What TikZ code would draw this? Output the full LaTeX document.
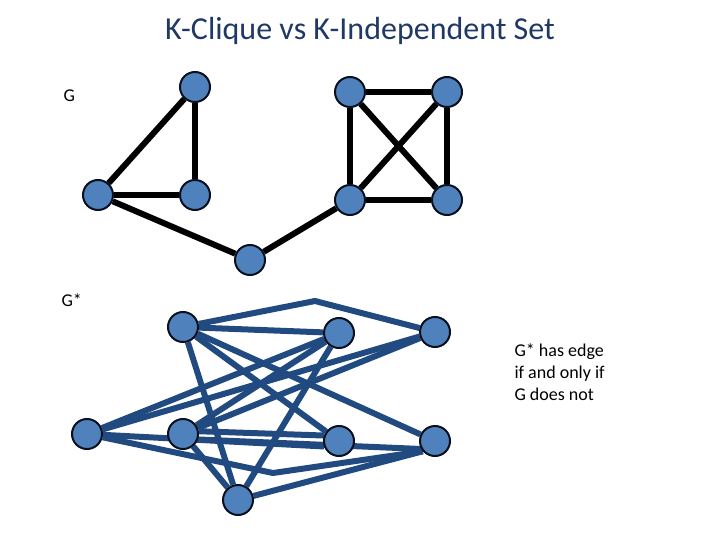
\documentclass[tikz,border=0pt]{standalone}
\usepackage{fontspec}
\setmainfont{Carlito}
\usetikzlibrary{backgrounds}
\definecolor{vfill}{RGB}{79,129,189}
\definecolor{vline}{RGB}{10,16,30}
\definecolor{compblue}{RGB}{33,74,128}
\definecolor{titleblue}{RGB}{31,56,100}
\begin{document}
\begin{tikzpicture}[x=1pt, y=-1pt,
        vtx/.style={shape=circle, draw=vline, fill=vfill, line width=2pt, minimum size=30pt, inner sep=0pt},
        gedge/.style={black, line width=6pt},
        cedge/.style={compblue, line width=6pt, line join=round},
        lbl/.style={font=\fontsize{18}{22}\selectfont, text=black, anchor=west}]
        \useasboundingbox (0,0) rectangle (720,540);
        \node[name=title, font=\fontsize{32}{36}\selectfont, text=titleblue] at (360,31) {K-Clique vs K-Independent Set};
        % graph G
        \node[name=lblg, lbl] at (60,96) {G};
        \node[name=ga, vtx] at (195,87) {};
        \node[name=gb, vtx] at (98,195) {};
        \node[name=gc, vtx] at (195,195) {};
        \node[name=gh, vtx] at (250,260) {};
        \node[name=gd, vtx] at (350,92) {};
        \node[name=ge, vtx] at (447,92) {};
        \node[name=gf, vtx] at (350,200) {};
        \node[name=gg, vtx] at (447,200) {};
        \begin{scope}[on background layer]
        \draw[gedge] (ga) -- (gb);
        \draw[gedge] (ga) -- (gc);
        \draw[gedge] (gb) -- (gc);
        \draw[gedge] (gb) -- (gh);
        \draw[gedge] (gh) -- (gf);
        \draw[gedge] (gd) -- (ge);
        \draw[gedge] (gd) -- (gf);
        \draw[gedge] (ge) -- (gg);
        \draw[gedge] (gf) -- (gg);
        \draw[gedge] (gd) -- (gg);
        \draw[gedge] (ge) -- (gf);
        \end{scope}
        % complement G*
        \node[name=lblgs, lbl] at (58,300) {G*};
        \node[name=sa, vtx] at (183,327) {};
        \node[name=sd, vtx] at (339,333) {};
        \node[name=se, vtx] at (435,332) {};
        \node[name=sb, vtx] at (87,434) {};
        \node[name=sc, vtx] at (183,434) {};
        \node[name=sf, vtx] at (339,441) {};
        \node[name=sg, vtx] at (435,441) {};
        \node[name=sh, vtx] at (238,500) {};
        \coordinate (apex) at (315,301);
        \coordinate (bend) at (273,473);
        \begin{scope}[on background layer]
        \draw[cedge] (sa) -- (sd);
        \draw[cedge] (sa) -- (apex) -- (se);
        \draw[cedge] (sa) -- (sf);
        \draw[cedge] (sa) -- (sg);
        \draw[cedge] (sa) -- (sh);
        \draw[cedge] (sb) -- (sd);
        \draw[cedge] (sb) -- (se);
        \draw[cedge] (sb) -- (sf.200);
        \draw[cedge] (sb) -- (bend) -- (sg.220);
        \draw[cedge] (sc) -- (sd);
        \draw[cedge] (sc) -- (se);
        \draw[cedge] (sc.10) -- (sf.160);
        \draw[cedge] (sc.340) -- (sg.210);
        \draw[cedge] (sc) -- (sh);
        \draw[cedge] (sh) -- (sd);
        \draw[cedge] (sh) -- (sg.220);
        \end{scope}
        \node[name=note, lbl, align=left, anchor=north west] at (511,340) {G* has edge\\if and only if\\G does not};
    \end{tikzpicture}
\end{document}
